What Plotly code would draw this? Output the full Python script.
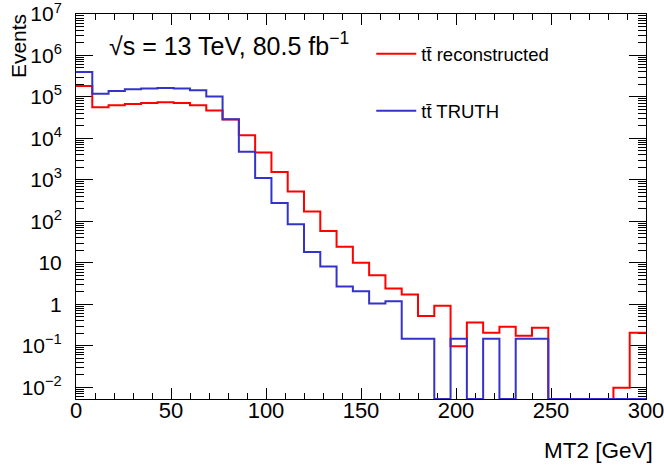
import numpy as np
import plotly.graph_objects as go

# MT2 binning: 35 equal bins between 0 and 300 GeV
bin_lo, bin_hi, n_bins = 0.0, 300.0, 35

# Event yields per bin (0 = empty bin)
reco_events = [184000, 56100, 62800, 67600, 71400, 74100, 71400, 62800, 47400, 28500,
               12000, 4570, 1560, 525, 174, 58.2, 24.5, 10.0, 5.0, 2.42,
               1.73, 0.521, 0.927, 0.098, 0.366, 0.206, 0.287, 0.174, 0.272, 0,
               0, 0, 0, 0.0098, 0.206]
truth_events = [402000, 120000, 139000, 153000, 159000, 165000, 159000, 145000, 102000, 28800,
                4740, 1110, 277, 85.1, 18.2, 8.13, 2.69, 2.07, 1.04, 1.18,
                0.148, 0.148, 0, 0.148, 0, 0.148, 0, 0.148, 0.148, 0,
                0, 0, 0, 0, 0]

series_names = ["tt\u0304 reconstructed", "tt\u0304 TRUTH"]
series_colors = ["#ff0000", "#3333cc"]

y_log_range = [-2.283, 7.0]
y_major = [1e-2, 1e-1, 1, 10, 1e2, 1e3, 1e4, 1e5, 1e6, 1e7]
y_major_text = ["10<sup>\u22122</sup>", "10<sup>\u22121</sup>", "1", "10", "10<sup>2</sup>",
                "10<sup>3</sup>", "10<sup>4</sup>", "10<sup>5</sup>", "10<sup>6</sup>", "10<sup>7</sup>"]
x_major = [0, 50, 100, 150, 200, 250, 300]

FONT = "Liberation Sans"

edges = np.linspace(bin_lo, bin_hi, n_bins + 1)
floor = 10 ** y_log_range[0]


def step_y(values):
    v = np.asarray(values, dtype=float)
    v = np.where(v > 0, v, floor)  # empty bins sit on the frame bottom
    return np.append(v, v[-1])


fig = go.Figure()
for name, vals, col, grp in zip(series_names, [reco_events, truth_events], series_colors, ["reco", "truth"]):
    fig.add_trace(go.Scatter(
        x=edges, y=step_y(vals), mode="lines", name=name,
        line=dict(color=col, width=2, shape="hv"),
        legendgroup=grp, hoverinfo="skip",
    ))

minor_y = [m * 10.0 ** k for k in range(-3, 7) for m in range(2, 10)]
minor_y = [v for v in minor_y if floor < v < 1e7]

fig.update_layout(
    width=664, height=471,
    margin=dict(l=76, r=18, t=14, b=72, autoexpand=False),
    paper_bgcolor="white", plot_bgcolor="white",
    font=dict(family=FONT, size=22, color="black"),
    showlegend=True,
    legend=dict(x=0.518, y=0.945, xanchor="left", yanchor="top",
                font=dict(family=FONT, size=18.5, color="black"),
                traceorder="grouped", tracegroupgap=30,
                bgcolor="rgba(0,0,0,0)", itemwidth=40),
    xaxis=dict(range=[bin_lo, bin_hi], tickvals=x_major, ticks="inside", ticklen=11,
               tickcolor="black", showline=True, linecolor="black", linewidth=1,
               mirror="ticks", showgrid=False, zeroline=False, automargin=False,
               tickfont=dict(family=FONT, size=22), ticklabeloverflow="allow",
               ticklabelstandoff=-8,
               minor=dict(dtick=10, tick0=0, ticks="inside", ticklen=6, tickcolor="black", showgrid=False),
               layer="below traces"),
    yaxis=dict(type="log", range=y_log_range, tickvals=y_major, ticktext=y_major_text,
               ticks="inside", ticklen=17, tickcolor="black", showline=True,
               linecolor="black", linewidth=1, mirror="ticks", showgrid=False,
               zeroline=False, automargin=False, tickfont=dict(family=FONT, size=21),
               ticklabelstandoff=9, ticklabeloverflow="allow",
               minor=dict(tickvals=minor_y, ticks="inside", ticklen=8, tickcolor="black", showgrid=False),
               layer="below traces"),
    annotations=[
        dict(text="\u221As = 13 TeV, 80.5 fb<sup>\u22121</sup>", xref="paper", yref="paper",
             x=0.055, y=0.923, xanchor="left", yanchor="middle", showarrow=False,
             font=dict(family=FONT, size=25)),
        dict(text="Events", xref="paper", yref="paper", x=-0.101, y=1.006,
             xanchor="center", yanchor="top", textangle=-90, showarrow=False,
             font=dict(family=FONT, size=21)),
        dict(text="MT2 [GeV]", xref="paper", yref="paper", x=1.016, y=-0.1326,
             xanchor="right", yanchor="middle", showarrow=False,
             font=dict(family=FONT, size=22.5)),
    ],
)

fig.write_html("out.html")
